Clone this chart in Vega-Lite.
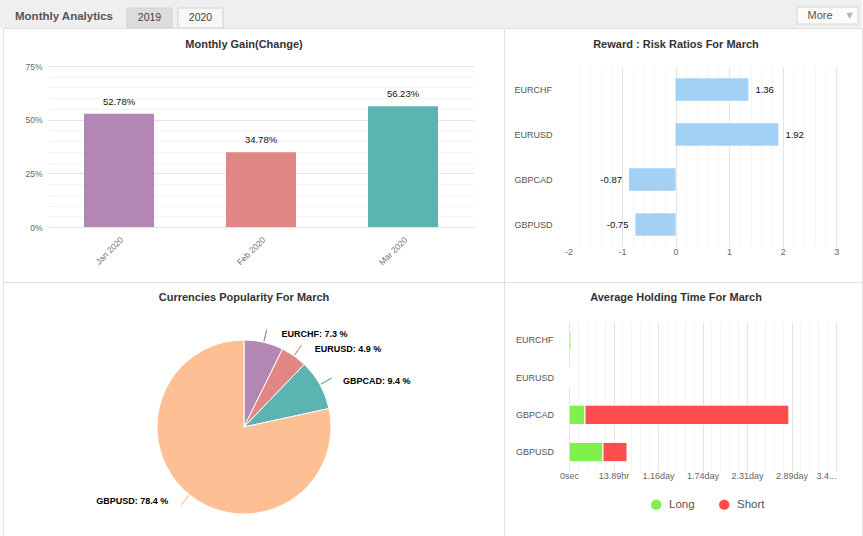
{
  "$schema": "https://vega.github.io/schema/vega-lite/v6.json",
  "padding": 0,
  "background": "#ffffff",
  "columns": 3,
  "spacing": 0,
  "bounds": "flush",
  "resolve": {"scale": {"color": "independent", "fill": "independent"}},
  "config": {
    "view": {"stroke": "#e0e0e0", "fill": "#ffffff"},
    "locale": {"number": {"decimal": ".", "thousands": ",", "grouping": [3], "currency": ["$", ""], "minus": "-"}},
    "axis": {"labelFont": "Liberation Sans", "labelFontSize": 9, "labelColor": "#666666", "ticks": false, "tickSize": 0, "domain": false, "gridColor": "#e4e4e4"},
    "title": {"font": "Liberation Sans", "fontSize": 11, "fontWeight": "bold", "color": "#333333", "anchor": "middle"},
    "text": {"font": "Liberation Sans"}
  },
  "concat": [
    {"width": 3, "height": 28, "view": {"stroke": null, "fill": "#efefef"}, "data": {"values": []}, "mark": "point"},
    {
      "width": 501,
      "height": 28,
      "view": {"fill": "#efefef", "stroke": null},
      "resolve": {"scale": {"x": "independent"}},
      "layer": [
        {
          "data": {"values": [{"label": "Monthly Analytics"}]},
          "mark": {"type": "text", "fontSize": 11.5, "fontWeight": "bold", "color": "#555555"},
          "encoding": {
            "x": {"field": "label", "type": "nominal", "scale": {"range": [1, 121]}, "axis": null},
            "y": {"datum": 0.565, "type": "quantitative", "scale": {"domain": [0, 1], "range": [28, 8]}, "axis": null},
            "text": {"field": "label"}
          }
        },
        {
          "data": {"values": [{"tab": "2019", "state": "idle"}, {"tab": "2020", "state": "open"}]},
          "encoding": {
            "x": {"field": "tab", "type": "nominal", "scale": {"range": [124, 220], "paddingInner": 0.1176, "paddingOuter": 0}, "axis": null}
          },
          "layer": [
            {
              "mark": {"type": "rect", "stroke": "#d2d2d2", "strokeWidth": 1},
              "encoding": {
                "y": {"datum": 0, "type": "quantitative", "scale": {"domain": [0, 1], "range": [28, 8]}, "axis": null},
                "y2": {"datum": 1},
                "fill": {"field": "state", "type": "nominal", "scale": {"domain": ["idle", "open"], "range": ["#dcdcdc", "#f8f8f8"]}, "legend": null}
              }
            },
            {
              "mark": {"type": "text", "fontSize": 10.5, "color": "#444444"},
              "encoding": {
                "y": {"datum": 0.515, "type": "quantitative", "axis": null},
                "text": {"field": "tab"}
              }
            }
          ]
        }
      ]
    },
    {
      "width": 358,
      "height": 28,
      "view": {"fill": "#efefef", "stroke": null},
      "data": {"values": [{"label": "More"}]},
      "encoding": {
        "x": {"field": "label", "type": "nominal", "scale": {"range": [293, 354], "paddingInner": 0, "paddingOuter": 0}, "axis": null}
      },
      "layer": [
        {
          "mark": {"type": "rect", "fill": "#fbfbfb", "stroke": "#d6d6d6", "strokeWidth": 1},
          "encoding": {
            "y": {"datum": 0.2, "type": "quantitative", "scale": {"domain": [0, 1], "range": [28, 8]}, "axis": null},
            "y2": {"datum": 1.05}
          }
        },
        {
          "mark": {"type": "text", "dx": -7.5, "fontSize": 11, "color": "#555555"},
          "encoding": {
            "y": {"datum": 0.6, "type": "quantitative", "axis": null},
            "text": {"field": "label"}
          }
        },
        {
          "mark": {"type": "text", "dx": 22, "fontSize": 8, "color": "#b5b5b5", "font": "DejaVu Sans", "text": "▼"},
          "encoding": {
            "y": {"datum": 0.62, "type": "quantitative", "axis": null}
          }
        }
      ]
    },
    {"width": 3, "height": 254, "view": {"stroke": null, "fill": null}, "data": {"values": []}, "mark": "point"},
    {
      "width": 501,
      "height": 254,
      "title": {"text": "Monthly Gain(Change)", "offset": -22, "dx": -9.5},
      "data": {"values": [
        {"month": "Jan 2020", "gain": 0.5278},
        {"month": "Feb 2020", "gain": 0.3478},
        {"month": "Mar 2020", "gain": 0.5623}
      ]},
      "encoding": {
        "x": {
          "field": "month", "type": "nominal", "sort": null, "title": null,
          "scale": {"range": [45, 471], "paddingInner": 0.507, "paddingOuter": 0.2535},
          "axis": {"orient": "bottom", "offset": -55, "labelAngle": -45, "labelPadding": 8, "labelFontSize": 8.5, "labelColor": "#707070", "grid": false}
        },
        "y": {
          "field": "gain", "type": "quantitative", "title": null,
          "scale": {"domain": [0, 0.75], "range": [199, 38], "nice": false},
          "axis": {
            "orient": "left", "offset": -45, "labelPadding": 6, "labelFontSize": 8.5, "labelOverlap": false,
            "values": [0, 0.05, 0.1, 0.15, 0.2, 0.25, 0.3, 0.35, 0.4, 0.45, 0.5, 0.55, 0.6, 0.65, 0.7, 0.75],
            "labelExpr": "abs(datum.value * 4 - round(datum.value * 4)) < 0.000001 ? format(datum.value, '.0%') : ''",
            "gridColor": {"condition": {"test": "abs(datum.value * 4 - round(datum.value * 4)) < 0.000001", "value": "#e4e4e4"}, "value": "#f4f4f4"}
          }
        }
      },
      "layer": [
        {
          "mark": {"type": "bar"},
          "encoding": {
            "color": {"field": "month", "type": "nominal", "sort": null, "legend": null, "scale": {"range": ["#b386b3", "#e08784", "#5bb3b2"]}}
          }
        },
        {
          "mark": {"type": "text", "dy": -12, "fontSize": 9.5, "color": "#111111"},
          "encoding": {"text": {"field": "gain", "type": "quantitative", "format": ".2%"}}
        }
      ]
    },
    {
      "width": 358,
      "height": 254,
      "title": {"text": "Reward : Risk Ratios For March", "offset": -22, "dx": -7},
      "data": {"values": [
        {"pair": "EURCHF", "ratio": 1.36},
        {"pair": "EURUSD", "ratio": 1.92},
        {"pair": "GBPCAD", "ratio": -0.87},
        {"pair": "GBPUSD", "ratio": -0.75}
      ]},
      "encoding": {
        "y": {
          "field": "pair", "type": "nominal", "sort": null, "title": null,
          "scale": {"range": [39, 219], "paddingInner": 0.5, "paddingOuter": 0.25},
          "axis": {"orient": "left", "offset": -10, "labelAlign": "left", "labelPadding": 0, "labelColor": "#555555", "grid": false}
        },
        "x": {
          "field": "ratio", "type": "quantitative", "title": null,
          "scale": {"domain": [-2, 3], "range": [64.5, 332.2], "nice": false},
          "axis": {
            "orient": "top", "offset": -39, "labelPadding": -180.5, "labelBaseline": "top", "labelFlush": false, "labelOverlap": false,
            "values": [-2, -1.8, -1.6, -1.4, -1.2, -1, -0.8, -0.6, -0.4, -0.2, 0, 0.2, 0.4, 0.6, 0.8, 1, 1.2, 1.4, 1.6, 1.8, 2, 2.2, 2.4, 2.6, 2.8, 3],
            "labelExpr": "abs(datum.value - round(datum.value)) < 0.000001 ? format(round(datum.value), 'd') : ''",
            "gridColor": {"condition": {"test": "abs(datum.value - round(datum.value)) < 0.000001", "value": "#e4e4e4"}, "value": "#f4f4f4"},
            "gridOpacity": {"condition": {"test": "datum.value < -1.9", "value": 0}, "value": 1}
          }
        }
      },
      "layer": [
        {"mark": {"type": "bar", "color": "#a3d0f5"}},
        {
          "transform": [{"filter": "datum.ratio >= 0"}],
          "mark": {"type": "text", "align": "left", "dx": 7, "fontSize": 9.5, "color": "#111111"},
          "encoding": {"text": {"field": "ratio", "type": "quantitative", "format": ".2f"}}
        },
        {
          "transform": [{"filter": "datum.ratio < 0"}],
          "mark": {"type": "text", "align": "right", "dx": -7, "fontSize": 9.5, "color": "#111111"},
          "encoding": {"text": {"field": "ratio", "type": "quantitative", "format": ".2f"}}
        }
      ]
    },
    {"width": 3, "height": 254, "view": {"stroke": null, "fill": null}, "data": {"values": []}, "mark": "point"},
    {
      "width": 501,
      "height": 254,
      "title": {"text": "Currencies Popularity For March", "offset": -21, "dx": -9.5},
      "data": {"values": [
        {"pair": "EURCHF", "share": 7.3},
        {"pair": "EURUSD", "share": 4.9},
        {"pair": "GBPCAD", "share": 9.4},
        {"pair": "GBPUSD", "share": 78.4}
      ]},
      "transform": [{"calculate": "datum.pair + ': ' + format(datum.share, '.1f') + ' %'", "as": "label"}],
      "encoding": {
        "theta": {"field": "share", "type": "quantitative", "stack": true},
        "detail": {"field": "pair", "type": "nominal"},
        "x": {"datum": 0, "type": "quantitative", "scale": {"domain": [-1, 1], "range": [154, 328]}, "axis": null},
        "y": {"datum": 0, "type": "quantitative", "scale": {"domain": [-1, 1], "range": [58, 232]}, "axis": null}
      },
      "layer": [
        {
          "mark": {"type": "arc", "outerRadius": 87, "stroke": "#ffffff", "strokeWidth": 1},
          "encoding": {
            "color": {"field": "pair", "type": "nominal", "legend": null,
              "scale": {"domain": ["EURCHF", "EURUSD", "GBPCAD", "GBPUSD"], "range": ["#b386b3", "#e08784", "#5bb3b2", "#ffbf94"]}}
          }
        },
        {
          "transform": [
            {"stack": "share", "groupby": [], "sort": [{"field": "pair", "order": "ascending"}], "as": ["a0", "a1"]},
            {"calculate": "(datum.a0 + datum.a1) / 2", "as": "mid"}
          ],
          "mark": {"type": "arc", "innerRadius": 88, "outerRadius": 100, "filled": false, "strokeWidth": 1},
          "encoding": {
            "theta": {"field": "mid", "type": "quantitative", "stack": null},
            "theta2": {"field": "mid"},
            "color": {"field": "pair", "type": "nominal", "legend": null}
          }
        },
        {
          "mark": {"type": "text", "radius": 95, "align": "left", "dx": 16, "fontSize": 9, "fontWeight": "bold", "color": "#000000"},
          "encoding": {
            "text": {"field": "label"},
            "opacity": {"condition": {"test": "datum.pair === 'GBPUSD'", "value": 0}, "value": 1}
          }
        },
        {
          "mark": {"type": "text", "radius": 95, "align": "right", "dx": -16, "fontSize": 9, "fontWeight": "bold", "color": "#000000"},
          "encoding": {
            "text": {"field": "label"},
            "opacity": {"condition": {"test": "datum.pair === 'GBPUSD'", "value": 1}, "value": 0}
          }
        }
      ]
    },
    {
      "width": 358,
      "height": 254,
      "title": {"text": "Average Holding Time For March", "offset": -21, "dx": -7},
      "data": {"values": [
        {"pair": "EURCHF", "side": "Long", "seconds": 2500},
        {"pair": "EURCHF", "side": "Short", "seconds": 0},
        {"pair": "EURUSD", "side": "Long", "seconds": 0},
        {"pair": "EURUSD", "side": "Short", "seconds": 0},
        {"pair": "GBPCAD", "side": "Long", "seconds": 18000},
        {"pair": "GBPCAD", "side": "Short", "seconds": 229000},
        {"pair": "GBPUSD", "side": "Long", "seconds": 38200},
        {"pair": "GBPUSD", "side": "Short", "seconds": 27000}
      ]},
      "mark": {"type": "bar", "stroke": "#ffffff", "strokeWidth": 1},
      "encoding": {
        "y": {
          "field": "pair", "type": "nominal", "sort": null, "title": null,
          "scale": {"range": [39.7, 188.7], "paddingInner": 0.48, "paddingOuter": 0.24},
          "axis": {"orient": "left", "offset": -11.4, "labelAlign": "left", "labelPadding": 0, "labelColor": "#555555", "grid": false}
        },
        "x": {
          "field": "seconds", "type": "quantitative", "stack": "zero", "title": null,
          "scale": {"domain": [0, 300000], "range": [65, 332], "nice": false},
          "axis": {
            "orient": "top", "offset": -39.7, "labelPadding": -150, "labelBaseline": "top", "labelFlush": false, "labelOverlap": false,
            "values": [0, 10000, 20000, 30000, 40000, 50000, 60000, 70000, 80000, 90000, 100000, 110000, 120000, 130000, 140000, 150000, 160000, 170000, 180000, 190000, 200000, 210000, 220000, 230000, 240000, 250000, 260000, 270000, 280000, 290000, 300000],
            "labelExpr": "datum.value % 50000 !== 0 ? '' : datum.value === 0 ? '0sec' : datum.value < 86400 ? format(datum.value / 3600, '.2f') + 'hr' : datum.value >= 300000 ? slice(format(datum.value / 86400, '.2f') + 'day', 0, 3) + '...' : format(datum.value / 86400, '.2f') + 'day'",
            "labelAlign": {"condition": {"test": "datum.value >= 300000", "value": "right"}, "value": "center"},
            "gridColor": {"condition": {"test": "datum.value % 50000 === 0", "value": "#e4e4e4"}, "value": "#f4f4f4"}
          }
        },
        "color": {
          "field": "side", "type": "nominal",
          "scale": {"domain": ["Long", "Short"], "range": ["#7ff04d", "#ff4d4d"]},
          "legend": {"orient": "none", "legendX": 146.5, "legendY": 216.5, "direction": "horizontal", "title": null, "symbolType": "circle", "symbolSize": 110, "symbolStrokeWidth": 0, "labelFont": "Liberation Sans", "labelFontSize": 11.5, "labelColor": "#555555", "labelOffset": 7, "columnPadding": 23}
        }
      }
    }
  ]
}
